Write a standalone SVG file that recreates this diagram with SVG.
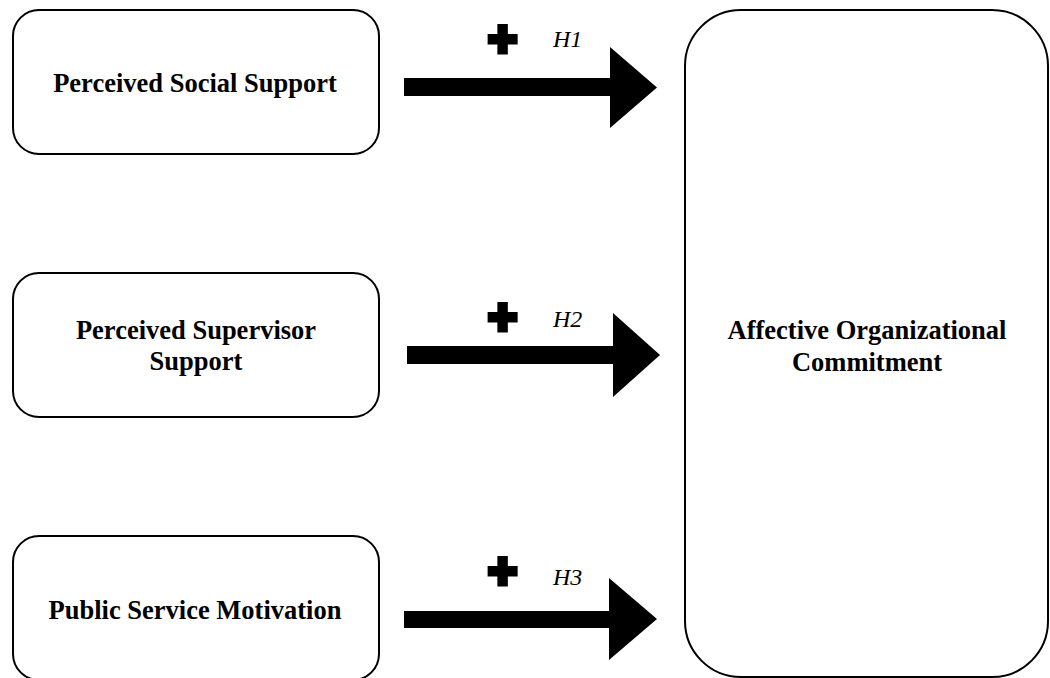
<svg xmlns="http://www.w3.org/2000/svg" width="1050" height="678" viewBox="0 0 1050 678">
<style>
.box{fill:#fff;stroke:#000;stroke-width:2}
.lbl{font-family:"Liberation Serif","Times New Roman",serif;font-weight:bold;font-size:26.5px;fill:#000;text-anchor:middle}
.h{font-family:"Liberation Serif","Times New Roman",serif;font-style:italic;font-size:24px;fill:#000}
.plus{font-family:"Liberation Sans",Arial,sans-serif;font-weight:bold;font-size:50px;fill:#000;stroke:#000;stroke-width:5;stroke-linejoin:miter;text-anchor:middle}
.arrow{fill:#000}
</style>
<rect width="1050" height="678" fill="#fff"/>
<g id="node-pss">
<rect class="box" x="13" y="10" width="366" height="144" rx="26" ry="26"/>
<text class="lbl" x="195" y="92">Perceived Social Support</text>
</g>
<g id="node-psup">
<rect class="box" x="13" y="273" width="366" height="144" rx="26" ry="26"/>
<text class="lbl" x="196" y="339">Perceived Supervisor</text>
<text class="lbl" x="196" y="370">Support</text>
</g>
<g id="node-psm">
<rect class="box" x="13" y="536" width="366" height="144" rx="26" ry="26"/>
<text class="lbl" x="195" y="619">Public Service Motivation</text>
</g>
<g id="node-aoc">
<rect class="box" x="685" y="10" width="363" height="667" rx="56" ry="56"/>
<text class="lbl" x="867" y="339">Affective Organizational</text>
<text class="lbl" x="867" y="371">Commitment</text>
</g>
<g id="connectors">
<g id="edge-h1">
<polygon class="arrow" points="404,78 610,78 610,47 657,87.5 610,128 610,96 404,96"/>
<text class="plus" x="502.5" y="55.5">+</text>
<text class="h" x="553" y="47">H1</text>
</g>
<g id="edge-h2">
<polygon class="arrow" points="407,346 613,346 613,313 660,355 613,397 613,364 407,364"/>
<text class="plus" x="502.5" y="333.5">+</text>
<text class="h" x="553" y="327">H2</text>
</g>
<g id="edge-h3">
<polygon class="arrow" points="404,611 609,611 609,578 657,619 609,660 609,628 404,628"/>
<text class="plus" x="502.5" y="587.5">+</text>
<text class="h" x="553" y="585">H3</text>
</g>
</g>
</svg>
